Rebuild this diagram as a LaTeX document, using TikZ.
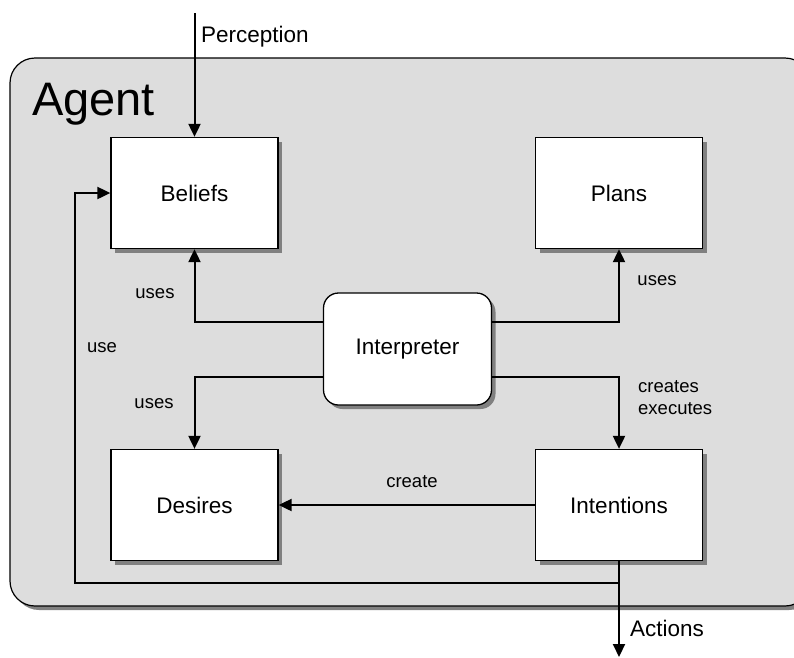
\documentclass[tikz,border=0pt]{standalone}
\usepackage{fontspec}
\setmainfont{Liberation Sans}
\usetikzlibrary{arrows.meta,shadows,positioning}
\definecolor{agentfill}{HTML}{DDDDDD}
\definecolor{shadowgray}{HTML}{808080}
\tikzset{
  myshadow/.style={drop shadow={shadow xshift=4pt,shadow yshift=-4pt,fill=shadowgray,opacity=1}},
  compbox/.style={draw=black,line width=1.3pt,fill=white,minimum width=167pt,minimum height=111pt,inner sep=0pt,font=\fontsize{22.5}{26}\selectfont,myshadow},
  interpbox/.style={compbox,rounded corners=15pt,minimum width=168pt,minimum height=112pt},
  conn/.style={line width=2pt,-{Triangle[length=13pt,width=12pt]}},
  lbl/.style={font=\fontsize{18.5}{22}\selectfont,inner sep=0pt},
  biglbl/.style={font=\fontsize{22.5}{26}\selectfont,inner sep=0pt},
}
\begin{document}
\begin{tikzpicture}[x=1pt,y=-1pt]
\useasboundingbox (0,0) rectangle (794,657);
\begin{scope}
\clip (0,0) rectangle (794,657);
\draw[fill=agentfill,line width=1.2pt,rounded corners=25pt,myshadow] (10,58) rectangle (810,606);
\end{scope}
\node[font=\fontsize{47}{52}\selectfont,anchor=west,inner sep=0pt] (agent) at (32,104) {Agent};

\node[compbox] (bel) at (194.5,193) {Beliefs};
\node[compbox] (pla) at (619,193) {Plans};
\node[compbox] (des) at (194.5,505) {Desires};
\node[compbox] (int) at (619,505) {Intentions};
\node[interpbox] (itp) at (407.5,349) {Interpreter};

\coordinate (pin) at (194.5,13);
\coordinate (aout) at (619,657);
\coordinate (ufold) at (75,583);

\draw[conn] (pin) -- (bel.north);
\node[biglbl,anchor=west] (lperc) at (201,37) {Perception};

\draw[conn] ([yshift=27pt]itp.west) -| (bel.south);
\draw[conn] ([yshift=27pt]itp.east) -| (pla.south);
\draw[conn] ([yshift=-28pt]itp.west) -| (des.north);
\draw[conn] ([yshift=-28pt]itp.east) -| (int.north);
\draw[conn] (int.west) -- (des.east);
\draw[conn] (int.south) -- (aout);
\draw[conn] (int.south) |- (ufold) |- (bel.west);

\node[lbl] (luses1) at (155,294) {uses};
\node[lbl] (luses2) at (657,281) {uses};
\node[lbl] (luses3) at (154,404) {uses};
\node[lbl,align=left,anchor=north west] (lce) at (638,380) {creates\\executes};
\node[lbl] (lcreate) at (412,482) {create};
\node[lbl] (luse) at (102,348) {use};
\node[biglbl,anchor=west] (lact) at (630,628) {Actions};
\end{tikzpicture}
\end{document}
